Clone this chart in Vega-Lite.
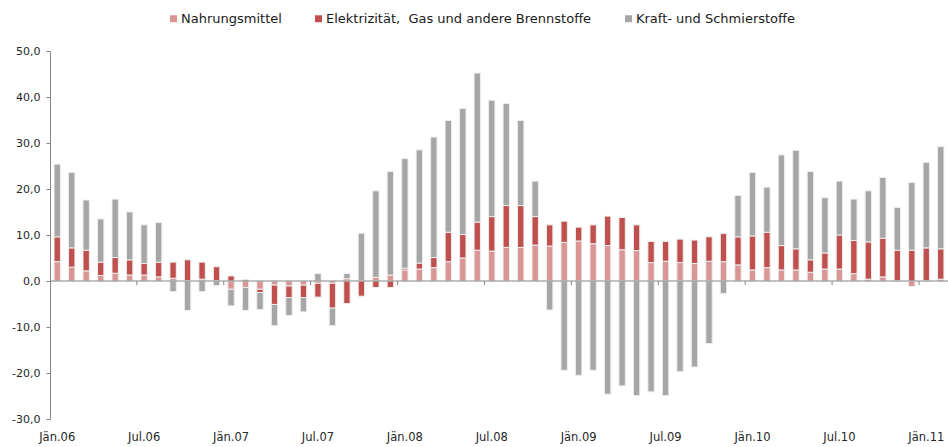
{
  "$schema": "https://vega.github.io/schema/vega-lite/v6.json",
  "width": 898,
  "height": 368,
  "autosize": {"type": "none"},
  "padding": {"left": 50, "top": 51, "right": 0, "bottom": 28},
  "background": "white",
  "config": {"view": {"stroke": null}, "font": "DejaVu Sans"},
  "datasets": {
    "cpi": [
      {"m": "Jän.06", "food": 4.2, "energy": 5.4, "car_fuel": 15.8},
      {"m": "Feb.06", "food": 3.0, "energy": 4.2, "car_fuel": 16.4},
      {"m": "Mär.06", "food": 2.2, "energy": 4.5, "car_fuel": 10.9},
      {"m": "Apr.06", "food": 1.2, "energy": 2.9, "car_fuel": 9.4},
      {"m": "Mai.06", "food": 1.7, "energy": 3.4, "car_fuel": 12.7},
      {"m": "Jun.06", "food": 1.3, "energy": 3.3, "car_fuel": 10.4},
      {"m": "Jul.06", "food": 1.3, "energy": 2.5, "car_fuel": 8.4},
      {"m": "Aug.06", "food": 0.9, "energy": 3.2, "car_fuel": 8.6},
      {"m": "Sep.06", "food": 0.6, "energy": 3.5, "car_fuel": -2.3},
      {"m": "Okt.06", "food": 0.1, "energy": 4.5, "car_fuel": -6.4},
      {"m": "Nov.06", "food": 0.4, "energy": 3.7, "car_fuel": -2.3},
      {"m": "Dez.06", "food": 0.1, "energy": 3.0, "car_fuel": -1.0},
      {"m": "Jän.07", "food": -1.8, "energy": 1.1, "car_fuel": -3.6},
      {"m": "Feb.07", "food": -1.4, "energy": 0.3, "car_fuel": -5.0},
      {"m": "Mär.07", "food": -1.8, "energy": -0.7, "car_fuel": -3.7},
      {"m": "Apr.07", "food": -0.9, "energy": -4.2, "car_fuel": -4.6},
      {"m": "Mai.07", "food": -1.1, "energy": -2.5, "car_fuel": -3.9},
      {"m": "Jun.07", "food": -0.9, "energy": -2.7, "car_fuel": -3.1},
      {"m": "Jul.07", "food": -0.5, "energy": -3.0, "car_fuel": 1.6},
      {"m": "Aug.07", "food": -0.5, "energy": -5.4, "car_fuel": -3.8},
      {"m": "Sep.07", "food": 0.5, "energy": -4.9, "car_fuel": 1.1},
      {"m": "Okt.07", "food": 0.1, "energy": -3.3, "car_fuel": 10.3},
      {"m": "Nov.07", "food": 0.8, "energy": -1.4, "car_fuel": 18.8},
      {"m": "Dez.07", "food": 1.3, "energy": -1.4, "car_fuel": 22.5},
      {"m": "Jän.08", "food": 2.4, "energy": 0.4, "car_fuel": 23.8},
      {"m": "Feb.08", "food": 2.6, "energy": 1.3, "car_fuel": 24.6},
      {"m": "Mär.08", "food": 2.9, "energy": 2.2, "car_fuel": 26.2},
      {"m": "Apr.08", "food": 4.2, "energy": 6.4, "car_fuel": 24.3},
      {"m": "Mai.08", "food": 5.0, "energy": 5.1, "car_fuel": 27.4},
      {"m": "Jun.08", "food": 6.7, "energy": 6.1, "car_fuel": 32.4},
      {"m": "Jul.08", "food": 6.5, "energy": 7.5, "car_fuel": 25.3},
      {"m": "Aug.08", "food": 7.3, "energy": 9.1, "car_fuel": 22.2},
      {"m": "Sep.08", "food": 7.3, "energy": 9.1, "car_fuel": 18.5},
      {"m": "Okt.08", "food": 7.8, "energy": 6.2, "car_fuel": 7.7},
      {"m": "Nov.08", "food": 7.6, "energy": 4.6, "car_fuel": -6.3},
      {"m": "Dez.08", "food": 8.4, "energy": 4.6, "car_fuel": -19.4},
      {"m": "Jän.09", "food": 8.7, "energy": 3.0, "car_fuel": -20.5},
      {"m": "Feb.09", "food": 8.1, "energy": 4.1, "car_fuel": -19.4},
      {"m": "Mär.09", "food": 7.7, "energy": 6.4, "car_fuel": -24.6},
      {"m": "Apr.09", "food": 6.8, "energy": 7.0, "car_fuel": -22.8},
      {"m": "Mai.09", "food": 6.6, "energy": 5.6, "car_fuel": -24.9},
      {"m": "Jun.09", "food": 4.0, "energy": 4.6, "car_fuel": -24.1},
      {"m": "Jul.09", "food": 4.3, "energy": 4.3, "car_fuel": -24.9},
      {"m": "Aug.09", "food": 4.0, "energy": 5.1, "car_fuel": -19.7},
      {"m": "Sep.09", "food": 3.8, "energy": 5.1, "car_fuel": -18.7},
      {"m": "Okt.09", "food": 4.3, "energy": 5.3, "car_fuel": -13.6},
      {"m": "Nov.09", "food": 4.2, "energy": 6.1, "car_fuel": -2.7},
      {"m": "Dez.09", "food": 3.5, "energy": 6.1, "car_fuel": 9.0},
      {"m": "Jän.10", "food": 2.4, "energy": 7.4, "car_fuel": 13.8},
      {"m": "Feb.10", "food": 2.9, "energy": 7.7, "car_fuel": 9.8},
      {"m": "Mär.10", "food": 2.4, "energy": 5.3, "car_fuel": 19.7},
      {"m": "Apr.10", "food": 2.4, "energy": 4.6, "car_fuel": 21.4},
      {"m": "Mai.10", "food": 1.9, "energy": 2.7, "car_fuel": 19.2},
      {"m": "Jun.10", "food": 2.6, "energy": 3.5, "car_fuel": 12.0},
      {"m": "Jul.10", "food": 2.6, "energy": 7.4, "car_fuel": 11.7},
      {"m": "Aug.10", "food": 1.6, "energy": 7.2, "car_fuel": 9.0},
      {"m": "Sep.10", "food": 0.4, "energy": 8.1, "car_fuel": 11.1},
      {"m": "Okt.10", "food": 0.9, "energy": 8.4, "car_fuel": 13.2},
      {"m": "Nov.10", "food": 0.1, "energy": 6.6, "car_fuel": 9.3},
      {"m": "Dez.10", "food": -1.2, "energy": 6.7, "car_fuel": 14.7},
      {"m": "Jän.11", "food": 0.1, "energy": 7.1, "car_fuel": 18.6},
      {"m": "Feb.11", "food": 0.4, "energy": 6.6, "car_fuel": 22.2}
    ],
    "halfyears": [
      {"m": "Jul.06"}, {"m": "Jän.07"}, {"m": "Jul.07"}, {"m": "Jän.08"}, {"m": "Jul.08"},
      {"m": "Jän.09"}, {"m": "Jul.09"}, {"m": "Jän.10"}, {"m": "Jul.10"}, {"m": "Jän.11"}
    ]
  },
  "layer": [
    {
      "data": {"name": "cpi"},
      "transform": [{"fold": ["food", "energy", "car_fuel"], "as": ["series", "value"]}],
      "mark": {"type": "bar", "stroke": "#ededed", "strokeWidth": 1},
      "encoding": {
        "x": {
          "field": "m", "type": "ordinal", "sort": null,
          "scale": {"paddingInner": 0.56},
          "axis": {
            "values": ["Jän.06", "Jul.06", "Jän.07", "Jul.07", "Jän.08", "Jul.08", "Jän.09", "Jul.09", "Jän.10", "Jul.10", "Jän.11"],
            "title": null, "domain": false, "ticks": false,
            "labelAngle": 0, "labelPadding": 12, "labelFontSize": 11.5,
            "labelColor": "#262626", "labelFont": "DejaVu Sans", "labelOverlap": false
          }
        },
        "y": {
          "field": "value", "type": "quantitative", "stack": "zero",
          "scale": {"domain": [-30, 50], "nice": false, "zero": false},
          "axis": {
            "values": [-30, -20, -10, 0, 10, 20, 30, 40, 50],
            "title": null, "grid": false,
            "domainColor": "#868686", "tickColor": "#868686", "tickSize": 4,
            "labelPadding": 6, "labelFontSize": 11, "labelColor": "#262626", "labelFont": "DejaVu Sans",
            "labelExpr": "replace(replace(format(datum.value, '.1f'), '.', ','), '\u2212', '-')"
          }
        },
        "color": {
          "field": "series", "type": "nominal",
          "scale": {"domain": ["food", "energy", "car_fuel"], "range": ["#D99694", "#C0504D", "#A6A6A6"]},
          "legend": {
            "orient": "none", "legendX": 117, "legendY": -39, "direction": "horizontal",
            "title": null, "symbolType": "square", "symbolSize": 49, "symbolStrokeWidth": 0,
            "labelFontSize": 13, "labelOffset": 1, "columnPadding": 30, "padding": 0,
            "labelFont": "DejaVu Sans", "labelColor": "#1a1a1a", "labelLimit": 0,
            "labelExpr": "datum.label == 'food' ? 'Nahrungsmittel' : datum.label == 'energy' ? 'Elektrizität,\u00a0 Gas und andere Brennstoffe' : 'Kraft- und Schmierstoffe'"
          }
        },
        "order": {"field": "series", "sort": "descending"}
      }
    },
    {
      "data": {"values": [{}]},
      "mark": {"type": "rule", "color": "#868686", "strokeWidth": 1},
      "encoding": {"y": {"datum": 0}}
    },
    {
      "data": {"name": "halfyears"},
      "mark": {"type": "rule", "color": "#868686", "strokeWidth": 1},
      "encoding": {
        "x": {"field": "m", "type": "ordinal", "sort": null, "bandPosition": -0.64},
        "y": {"datum": 0},
        "y2": {"datum": -0.9}
      }
    }
  ]
}
